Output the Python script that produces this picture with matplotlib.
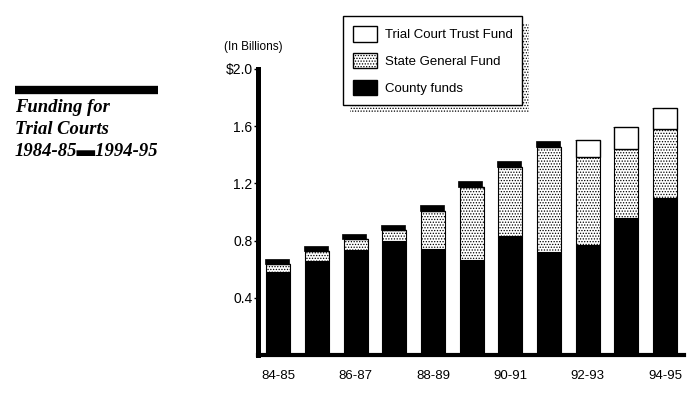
import matplotlib.pyplot as plt
import matplotlib.patches as mpatches
from matplotlib.lines import Line2D

years = ['84-85', '85-86', '86-87', '87-88', '88-89', '89-90',
         '90-91', '91-92', '92-93', '93-94', '94-95']
county = [0.58, 0.657, 0.734, 0.797, 0.741, 0.664, 0.832, 0.722, 0.769, 0.956, 1.10]
state = [0.056, 0.07, 0.075, 0.075, 0.268, 0.513, 0.485, 0.735, 0.613, 0.482, 0.483]
trust = [0, 0, 0, 0, 0, 0, 0, 0, 0.121, 0.154, 0.142]
# black cap on top of the older bars (no legend entry)
cap = [0.035, 0.035, 0.037, 0.037, 0.04, 0.04, 0.04, 0.04, 0, 0, 0]

yticks = [0.4, 0.8, 1.2, 1.6, 2.0]
ytick_labels = ['0.4', '0.8', '1.2', '1.6', '$2.0']

plt.rcParams['font.family'] = ['Liberation Sans', 'DejaVu Sans']
plt.rcParams['hatch.linewidth'] = 0.6

fig = plt.figure(figsize=(7, 3.94), dpi=100)
ax = fig.add_axes([0.3686, 0.099, 0.6086, 0.7259])

x = list(range(len(years)))
w = 0.62
base2 = [c + s for c, s in zip(county, state)]
base3 = [b + t for b, t in zip(base2, trust)]

ax.bar(x, county, w, color='black', edgecolor='black', linewidth=0.8)
ax.bar(x, state, w, bottom=county, color='white', edgecolor='black',
       hatch='......', linewidth=0.8)
ax.bar(x, trust, w, bottom=base2, color='white', edgecolor='black', linewidth=1.0)
ax.bar([i - 0.03 for i in x], cap, w, bottom=base3, color='black', edgecolor='black', linewidth=0.5)

ax.set_ylim(0, 2.0)
ax.set_xlim(-0.52, 10.49)
ax.set_yticks(yticks)
ax.set_yticklabels(ytick_labels, fontsize=10)
ax.set_xticks(x[::2])
ax.set_xticklabels(years[::2], fontsize=9.5)
ax.tick_params(axis='x', length=0, pad=11)
ax.tick_params(axis='y', length=3, width=1, pad=1)

for s in ['top', 'right']:
    ax.spines[s].set_visible(False)
ax.spines['left'].set_linewidth(3.6)
ax.spines['bottom'].set_linewidth(3)

fig.text(224 / 700, 1 - 47 / 394, '(In Billions)', fontsize=8.5, va='center')

# title block on the left
fig.add_artist(Line2D([15 / 700, 158 / 700], [1 - 90 / 394, 1 - 90 / 394],
                      color='black', linewidth=6, solid_capstyle='butt'))
fig.text(15 / 700, 1 - 99 / 394, 'Funding for\nTrial Courts\n1984-85\u25ac1994-95',
         family=['Liberation Serif', 'DejaVu Sans'], fontsize=13.4,
         fontweight='bold', fontstyle='italic', va='top', linespacing=1.38)

legend_elements = [
    mpatches.Patch(facecolor='white', edgecolor='black', label='Trial Court Trust Fund'),
    mpatches.Patch(facecolor='white', edgecolor='black', hatch='......', label='State General Fund'),
    mpatches.Patch(facecolor='black', edgecolor='black', label='County funds'),
]
leg = fig.legend(handles=legend_elements, loc='upper left',
                 bbox_to_anchor=(343 / 700, 1 - 16 / 394), fontsize=9.5,
                 frameon=True, fancybox=False, edgecolor='black', framealpha=1,
                 handlelength=1.8, handleheight=1.45, labelspacing=0.85,
                 borderpad=0.75, handletextpad=0.6, borderaxespad=0)
leg.get_frame().set_linewidth(1.0)
leg.set_zorder(5)

fig.canvas.draw()
bb = leg.get_window_extent().transformed(fig.transFigure.inverted())
dx, dy = 7 / 700, 7 / 394
shadow = mpatches.Rectangle((bb.x0 + dx, bb.y0 - dy), bb.width, bb.height,
                            transform=fig.transFigure, facecolor='white',
                            edgecolor='black', hatch='......', linewidth=0,
                            zorder=4)
fig.add_artist(shadow)

plt.savefig('out.png', dpi=100)
plt.close()
